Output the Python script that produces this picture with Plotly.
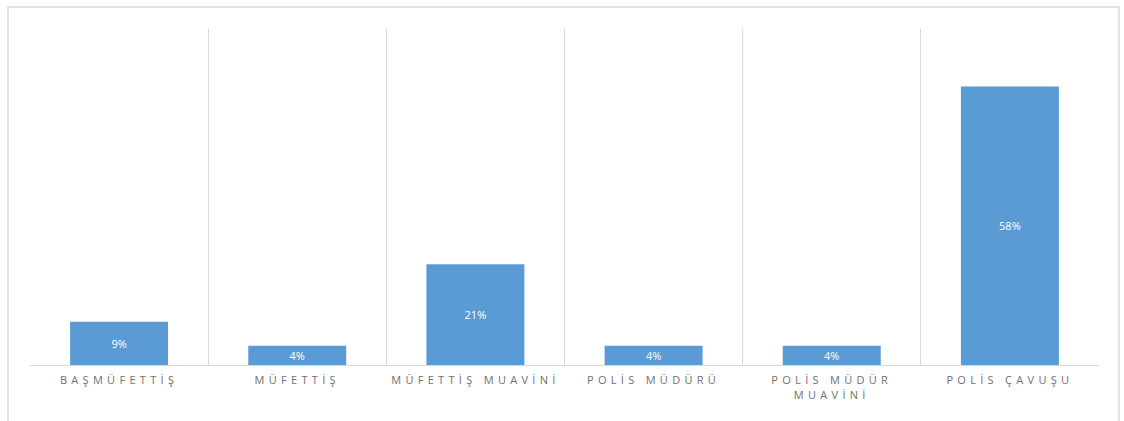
import plotly.graph_objects as go

# Rank categories and their share of respondents (%)
categories = ["BAŞMÜFETTİŞ", "MÜFETTİŞ", "MÜFETTİŞ MUAVİNİ", "POLİS MÜDÜRÜ",
              "POLİS MÜDÜR<br>MUAVİNİ", "POLİS ÇAVUŞU"]
shares = [9, 4, 21, 4, 4, 58]
share_labels = [f"{v}%" for v in shares]

bar_color = "#5B9BD5"
grid_color = "#D9D9D9"

fig = go.Figure(
    go.Bar(
        x=categories,
        y=shares,
        text=share_labels,
        textposition="inside",
        insidetextanchor="middle",
        constraintext="none",
        textfont=dict(color="white", size=11, family="Open Sans"),
        marker=dict(color=bar_color, line=dict(width=0)),
        width=0.55,
        hoverinfo="skip",
    )
)

fig.update_layout(
    width=1124,
    height=421,
    margin=dict(l=30, r=25, t=29, b=56),
    paper_bgcolor="white",
    plot_bgcolor="white",
    showlegend=False,
    uniformtext=dict(mode=False),
    xaxis=dict(
        type="category",
        tickson="boundaries",
        range=[-0.5, 5.5],
        showgrid=True,
        gridcolor=grid_color,
        gridwidth=1,
        showline=True,
        linecolor=grid_color,
        linewidth=1,
        ticks="",
        ticklabelstandoff=5,
        tickfont=dict(family="Open Sans", size=11, color="#707070"),
        fixedrange=True,
    ),
    yaxis=dict(
        range=[0, 70],
        showgrid=False,
        zeroline=False,
        showticklabels=False,
        showline=False,
        fixedrange=True,
    ),
    shapes=[
        # Outer chart frame
        dict(
            type="rect",
            xref="paper",
            yref="paper",
            x0=-0.0206,
            x1=1.0187,
            y0=-0.19,
            y1=1.0655,
            line=dict(color=grid_color, width=1.5),
            fillcolor="rgba(0,0,0,0)",
            layer="below",
        )
    ],
)

# Widen the letter spacing of the category labels
spacing_js = """
var gd = document.getElementsByClassName('plotly-graph-div')[0];
function spaceLabels(){
  gd.querySelectorAll('.xtick text').forEach(function(t){
    t.style.letterSpacing = '4.3px';
  });
}
spaceLabels();
gd.on('plotly_afterplot', spaceLabels);
"""

fig.write_html("out.html", config={"displayModeBar": False}, post_script=spacing_js)
